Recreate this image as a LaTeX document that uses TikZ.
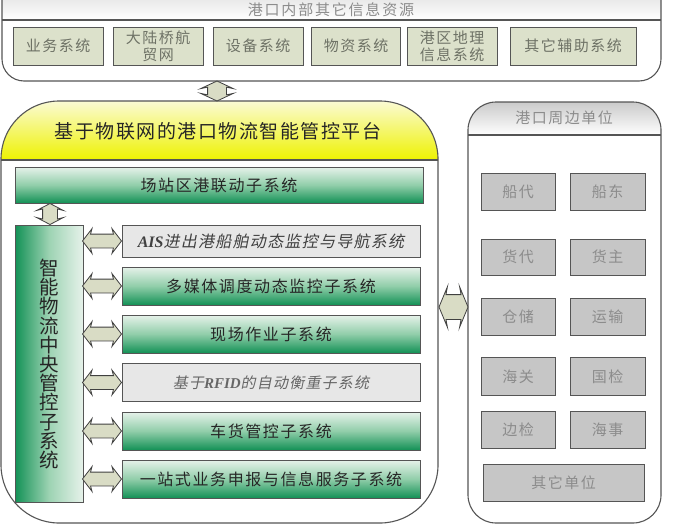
\documentclass[tikz,border=0pt]{standalone}
\usepackage{fontspec}
\setmainfont{Noto Sans CJK SC}
\newfontfamily\lser{Liberation Serif}
\newfontfamily\cjksl{Noto Sans CJK SC}[FakeSlant=0.2]
\usetikzlibrary{shapes.arrows,calc}
\definecolor{boxline}{HTML}{555555}
\definecolor{olivefill}{HTML}{DCE1CB}
\definecolor{olivetext}{HTML}{6E7266}
\definecolor{arrowfill}{HTML}{D9DCC5}
\definecolor{greenlight}{HTML}{E6F2EA}
\definecolor{greenmid}{HTML}{6CBE8E}
\definecolor{greendark}{HTML}{139156}
\definecolor{greybox}{HTML}{C6C6C6}
\definecolor{greytext}{HTML}{8C8C8C}
\definecolor{lightgreybox}{HTML}{E7E7E7}
\definecolor{yellowtop}{HTML}{FBFBD8}
\definecolor{yellowbot}{HTML}{EEF200}
\tikzset{
  container/.style={draw=boxline, line width=1.1pt},
  olivebox/.style={draw=boxline, line width=1pt, fill=olivefill, text=olivetext, inner sep=0pt, align=center,
     font=\fontsize{15}{17}\selectfont\addfontfeature{LetterSpace=10}},
  greenbox/.style={draw=boxline, line width=1pt, top color=greenlight, bottom color=greendark, middle color=greenmid!70!greenlight,
     inner sep=0pt, text=black!85, font=\fontsize{16}{18}\selectfont\addfontfeature{LetterSpace=10}},
  lgreybox/.style={draw=boxline, line width=1pt, fill=lightgreybox, inner sep=0pt, text=black!75,
     font=\fontsize{16}{18}\cjksl\addfontfeature{LetterSpace=8}},
  unitbox/.style={draw=boxline, line width=1pt, fill=greybox, inner sep=0pt, text=greytext,
     font=\fontsize{15}{17}\selectfont\addfontfeature{LetterSpace=10}},
  dblarr/.style={double arrow, draw=black!75, line width=0.8pt, fill=arrowfill, inner xsep=0pt,
     double arrow head extend=5pt, double arrow head indent=1.5pt},
}
\begin{document}
\begin{tikzpicture}[x=1pt,y=-1pt]
\useasboundingbox (0,0) rectangle (700,525);

% ---------- top container ----------
\begin{scope}
  \clip[rounded corners=22] (2,-40) rectangle (661,81);
  \shade[top color=black!25, bottom color=white] (0,-40) rectangle (665,20);
\end{scope}
\draw[container, rounded corners=22] (2,-40) rectangle (661,81);
\draw[container] (2,20) -- (661,20);
\node[text=greytext, font=\fontsize{15}{17}\selectfont\addfontfeature{LetterSpace=12}] (toptitle) at (331,9.5) {港口内部其它信息资源};

\node[olivebox, minimum width=90, minimum height=38] (yw) at (58,46) {业务系统};
\node[olivebox, minimum width=90, minimum height=38] (dlq) at (158,46) {大陆桥航\\贸网};
\node[olivebox, minimum width=90, minimum height=38] (sb) at (258,46) {设备系统};
\node[olivebox, minimum width=89, minimum height=38] (wz) at (356,46) {物资系统};
\node[olivebox, minimum width=90, minimum height=38] (gq) at (452,46) {港区地理\\信息系统};
\node[olivebox, minimum width=126, minimum height=38] (qt) at (573,46) {其它辅助系统};

% ---------- platform container ----------
\begin{scope}
  \clip[rounded corners=58] (1,101) rectangle (438,523);
  \shade[top color=yellowtop, bottom color=yellowbot] (0,100) rectangle (440,160);
\end{scope}
\draw[container, rounded corners=58] (1,101) rectangle (438,523);
\draw[container] (1,160) -- (438,160);
\node[text=black!85, font=\fontsize{19}{21}\selectfont\addfontfeature{LetterSpace=8}] (pt) at (218,131) {基于物联网的港口物流智能管控平台};

\coordinate (topbot) at (217,81);
\coordinate (plattop) at (217,101);
\node[dblarr, rotate=90, minimum height=20, minimum width=32, inner ysep=9pt, double arrow head extend=7pt,
      double arrow tip angle=130] (a0) at ($(topbot)!0.5!(plattop)$) {};

\node[greenbox, minimum width=408, minimum height=36] (cz) at (219,185) {场站区港联动子系统};

\node[draw=boxline, line width=1pt, left color=greendark, right color=greenlight, middle color=greenmid!60!greenlight,
      minimum width=68, minimum height=277, inner sep=0pt] (zn) at (49,363.5) {};
\node[text=black!85, align=center, font=\fontsize{19.5}{19.2}\selectfont] (zntext) at (49,364)
  {智\\能\\物\\流\\中\\央\\管\\控\\子\\系\\统};

\coordinate (czb) at (50,203);
\coordinate (znt) at (50,225);
\node[dblarr, rotate=90, minimum height=21, minimum width=26, inner ysep=7pt, double arrow head extend=6pt,
      double arrow tip angle=125] (a1) at ($(czb)!0.5!(znt)$) {};

\node[lgreybox, minimum width=298, minimum height=32] (ais) at (271,241) {{\lser\bfseries\itshape AIS}进出港船舶动态监控与导航系统};
\node[greenbox, minimum width=298, minimum height=38] (dmt) at (271,286) {多媒体调度动态监控子系统};
\node[greenbox, minimum width=298, minimum height=38] (xc) at (271,334) {现场作业子系统};
\node[lgreybox, minimum width=298, minimum height=38, text=black!60,
      font=\fontsize{15}{17}\cjksl\addfontfeature{LetterSpace=8}] (rfid) at (271,382.5) {基于{\lser\bfseries\itshape RFID}的自动衡重子系统};
\node[greenbox, minimum width=298, minimum height=38] (ch) at (271,431) {车货管控子系统};
\node[greenbox, minimum width=298, minimum height=38] (yz) at (271,479) {一站式业务申报与信息服务子系统};

\foreach \b/\n in {ais/h1,dmt/h2,xc/h3,rfid/h4,ch/h5,yz/h6}{
  \path (\b.west) ++(-19.5,0) node[dblarr, minimum height=39, minimum width=24, inner ysep=6.5pt,
      double arrow head extend=5.5pt, double arrow tip angle=105] (\n) {};
}

% ---------- right container ----------
\begin{scope}
  \clip[rounded corners=28] (468,102) rectangle (661,523);
  \shade[top color=black!22, bottom color=white] (465,100) rectangle (665,135);
\end{scope}
\draw[container, rounded corners=28] (468,102) rectangle (661,523);
\draw[container] (468,135) -- (661,135);
\node[text=greytext, font=\fontsize{15}{17}\selectfont\addfontfeature{LetterSpace=10}] (rt) at (564,118) {港口周边单位};

\node[dblarr, minimum height=29, minimum width=40, inner ysep=12pt, double arrow head extend=8pt,
      double arrow tip angle=135] (abig) at (453.5,307) {};

\node[unitbox, minimum width=74, minimum height=37] (u1) at (518,191.5) {船代};
\node[unitbox, minimum width=75, minimum height=37] (u2) at (607.5,191.5) {船东};
\node[unitbox, minimum width=74, minimum height=36] (u3) at (518,257) {货代};
\node[unitbox, minimum width=75, minimum height=36] (u4) at (607.5,257) {货主};
\node[unitbox, minimum width=74, minimum height=37] (u5) at (518,317) {仓储};
\node[unitbox, minimum width=75, minimum height=37] (u6) at (607.5,317) {运输};
\node[unitbox, minimum width=74, minimum height=38] (u7) at (518,376.5) {海关};
\node[unitbox, minimum width=75, minimum height=38] (u8) at (607.5,376.5) {国检};
\node[unitbox, minimum width=74, minimum height=37] (u9) at (518,429.5) {边检};
\node[unitbox, minimum width=75, minimum height=37] (u10) at (607.5,429.5) {海事};
\node[unitbox, minimum width=161, minimum height=37] (u11) at (563.5,482.5) {其它单位};
\end{tikzpicture}
\end{document}
